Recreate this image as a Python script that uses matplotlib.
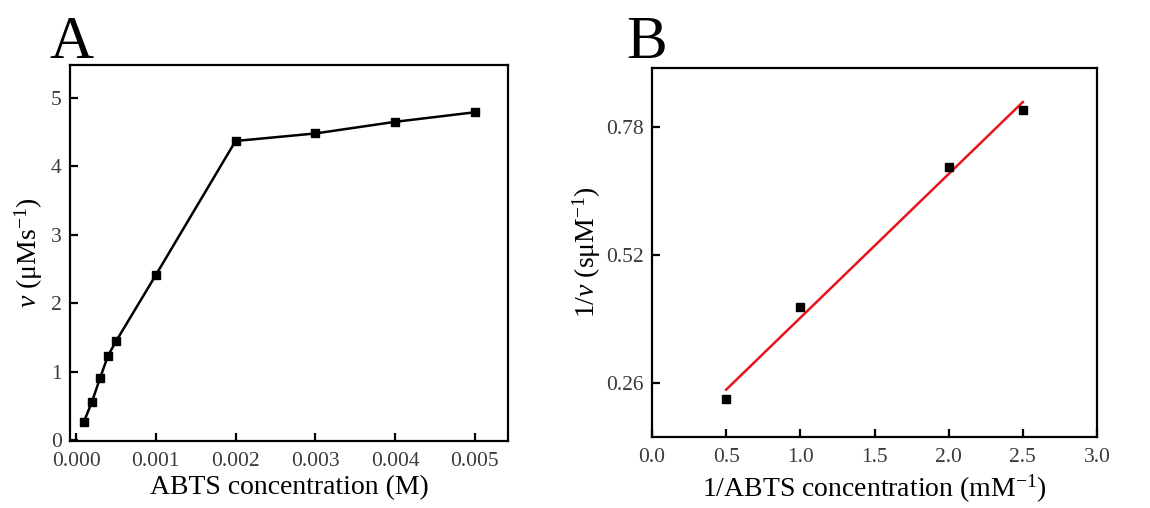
import numpy as np
import matplotlib
matplotlib.use('Agg')
import matplotlib.pyplot as plt

plt.rcParams['font.family'] = ['Liberation Serif', 'DejaVu Serif']
plt.rcParams['mathtext.fontset'] = 'custom'
plt.rcParams['mathtext.rm'] = 'Liberation Serif'
plt.rcParams['mathtext.it'] = 'Liberation Serif:italic'

# Panel A: rate vs ABTS concentration
abts_conc = [0.0001, 0.0002, 0.0003, 0.0004, 0.0005, 0.001, 0.002, 0.003, 0.004, 0.005]
rate = [0.27, 0.56, 0.90, 1.23, 1.44, 2.41, 4.37, 4.48, 4.65, 4.79]

# Panel B: Lineweaver-Burk
inv_conc = [0.5, 1.0, 2.0, 2.5]
inv_rate = [0.228, 0.414, 0.699, 0.814]

fig = plt.figure(figsize=(11.5, 5.08), dpi=100)
axA = fig.add_axes([0.0609, 0.1325, 0.3808, 0.7395])
axB = fig.add_axes([0.567, 0.1404, 0.3869, 0.7256])

tick_col = '#3a3a3a'
for ax in (axA, axB):
    for s in ax.spines.values():
        s.set_linewidth(1.6)
    ax.tick_params(direction='in', length=6, width=1.6, labelsize=15.5,
                   labelcolor=tick_col)
    ax.tick_params(axis='x', pad=8)
    ax.tick_params(axis='y', pad=6)

axA.plot(abts_conc, rate, '-s', color='black', lw=1.8, ms=5.5)
axA.set_xlim(-0.000075, 0.005414)
axA.set_ylim(-0.01, 5.48)
axA.set_xticks([0.000, 0.001, 0.002, 0.003, 0.004, 0.005])
axA.set_xticklabels(['0.000', '0.001', '0.002', '0.003', '0.004', '0.005'])
axA.set_yticks([0, 1, 2, 3, 4, 5])
axA.set_xlabel('ABTS concentration (M)', fontsize=20, labelpad=3)
axA.set_ylabel(r'$\mathit{v}$ ($\mathrm{\mu Ms^{-1}}$)', fontsize=20, labelpad=4)

slope, icpt = np.polyfit(inv_conc, inv_rate, 1)
xfit = np.array([inv_conc[0], inv_conc[-1]])
axB.plot(xfit, slope * xfit + icpt, color='#e8141b', lw=1.8)
axB.plot(inv_conc, inv_rate, 's', color='black', ms=5.5)
axB.set_xlim(0, 3.0)
axB.set_ylim(0.152, 0.899)
axB.set_xticks([0.0, 0.5, 1.0, 1.5, 2.0, 2.5, 3.0])
axB.set_yticks([0.26, 0.52, 0.78])
axB.set_xlabel(r'1/ABTS concentration (mM$^{\mathrm{-1}}$)', fontsize=20, labelpad=4)
axB.set_ylabel(r'1/$\mathit{v}$ (s$\mathrm{\mu M^{-1}}$)', fontsize=20, labelpad=2)

fig.text(0.043, 0.885, 'A', fontsize=44)
fig.text(0.545, 0.885, 'B', fontsize=44)

fig.savefig('out.png', dpi=100)
